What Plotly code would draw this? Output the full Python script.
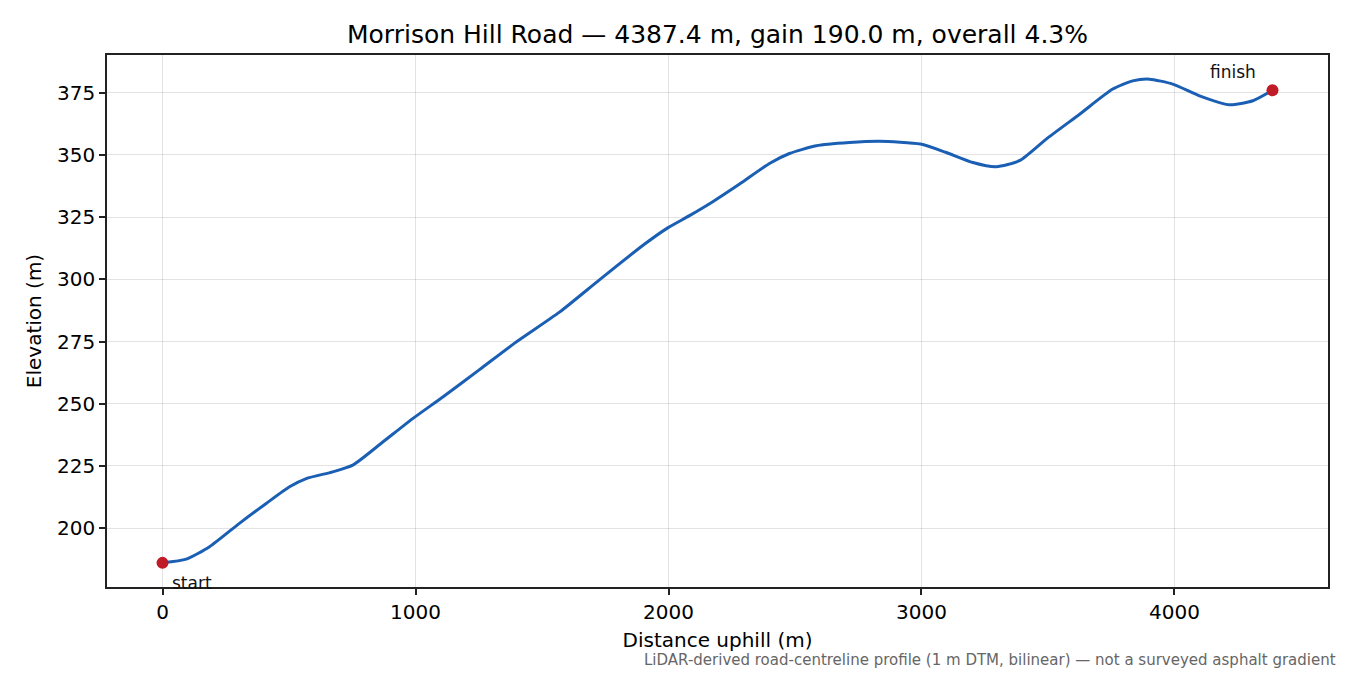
import plotly.graph_objects as go

# Elevation profile
distance_m = [0, 94, 186, 304, 410, 502, 568, 673, 752, 871, 989, 1108, 1253,
              1398, 1569, 1727, 1898, 1997, 2083, 2175, 2281, 2399, 2478, 2584,
              2715, 2834, 2996, 3098, 3203, 3295, 3387, 3493, 3625, 3756, 3835,
              3901, 3993, 4099, 4217, 4310, 4387.4]
elevation_m = [186.0, 187.5, 192.5, 201.9, 209.9, 216.6, 219.9, 222.6, 225.3,
               234.6, 244.0, 252.7, 263.7, 274.8, 286.8, 299.8, 313.6, 320.7,
               325.6, 331.2, 338.3, 346.6, 350.6, 353.7, 355.0, 355.5, 354.4,
               351.0, 347.0, 345.3, 347.7, 356.4, 366.4, 376.5, 379.8, 380.5,
               378.5, 373.8, 370.2, 371.8, 376.0]

endpoint_labels = ["start", "finish"]
x_ticks = [0, 1000, 2000, 3000, 4000]
y_ticks = [200, 225, 250, 275, 300, 325, 350, 375]

title = "Morrison Hill Road \u2014 4387.4 m, gain 190.0 m, overall 4.3%"
note = ("LiDAR-derived road-centreline profile (1 m DTM, bilinear) "
        "\u2014 not a surveyed asphalt gradient")

font = "DejaVu Sans"

fig = go.Figure()
fig.add_trace(go.Scatter(x=distance_m, y=elevation_m, mode="lines",
                         line=dict(color="#1a5fb4", width=3, shape="spline",
                                   smoothing=0.6),
                         hoverinfo="skip"))
fig.add_trace(go.Scatter(x=[distance_m[0], distance_m[-1]],
                         y=[elevation_m[0], elevation_m[-1]],
                         mode="markers",
                         marker=dict(color="#c01c28", size=12),
                         hoverinfo="skip"))

# start / finish labels
fig.add_annotation(x=distance_m[0], y=elevation_m[0], text=endpoint_labels[0],
                   showarrow=False, xanchor="left", yanchor="middle",
                   xshift=7, yshift=-20, font=dict(size=17, color="#111"))
fig.add_annotation(x=distance_m[-1], y=elevation_m[-1], text=endpoint_labels[1],
                   showarrow=False, xanchor="center", yanchor="middle",
                   xshift=-39, yshift=18, font=dict(size=17, color="#111"))

fig.add_annotation(xref="paper", yref="paper", x=1, y=0, text=note,
                   showarrow=False, xanchor="right", yanchor="middle",
                   xshift=10, yshift=-73, font=dict(size=15, color="#666"))

axis_style = dict(showline=True, linecolor="#222", linewidth=1.5, mirror=True,
                  ticks="outside", ticklen=6, tickcolor="#222", tickwidth=1.5,
                  showgrid=True, gridcolor="rgba(0,0,0,0.11)", gridwidth=1,
                  zeroline=False, tickfont=dict(size=20, color="black"))

fig.update_xaxes(range=[-219.4, 4606.8], tickvals=x_ticks,
                 title=dict(text="Distance uphill (m)", font=dict(size=20),
                            standoff=10),
                 **axis_style)
fig.update_yaxes(range=[176.3, 390.2], tickvals=y_ticks,
                 title=dict(text="Elevation (m)", font=dict(size=20),
                            standoff=10),
                 **axis_style)

# page body adds an 8 px offset, so margins are shifted to put the
# plot area at the reference position
fig.update_layout(width=1350, height=675, showlegend=False,
                  plot_bgcolor="white", paper_bgcolor="white",
                  font=dict(family=font, color="black"),
                  title=dict(text=title, xref="paper", x=0.5, xanchor="center",
                             y=1 - 26 / 675, yanchor="middle",
                             font=dict(size=25)),
                  margin=dict(l=99, r=30, t=47, b=96))

fig.write_html("out.html")
